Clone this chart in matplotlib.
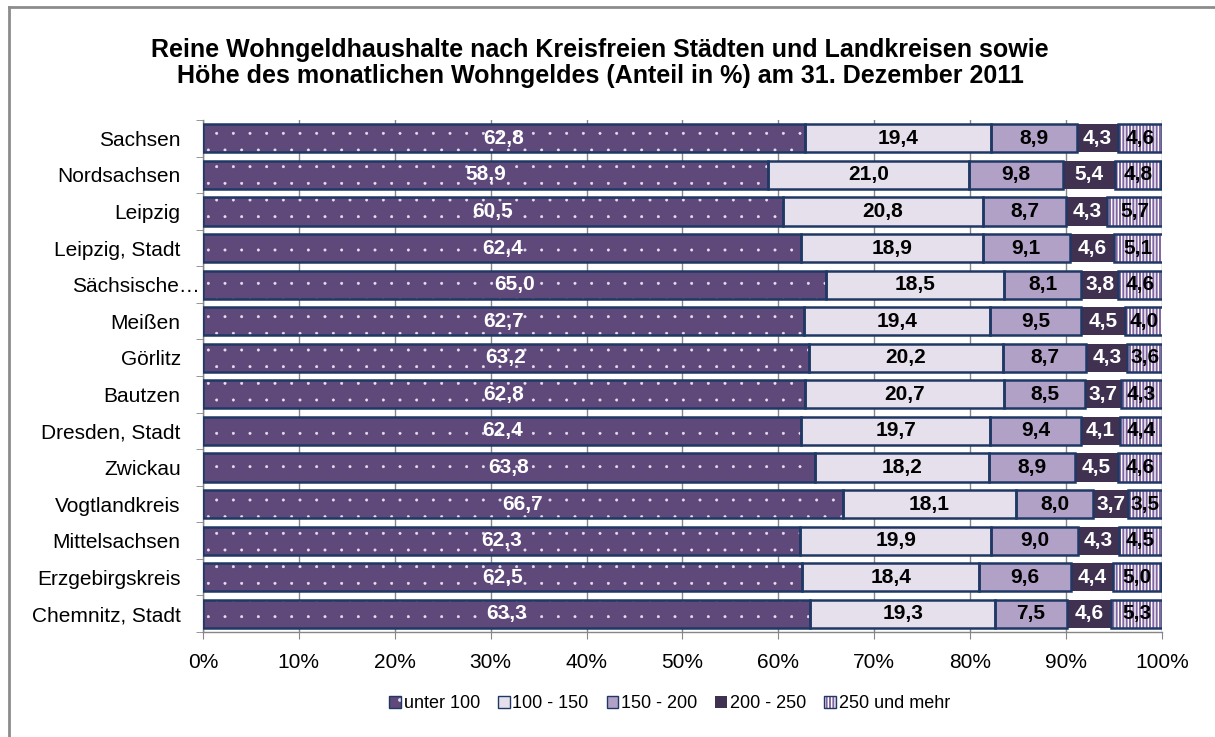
import matplotlib
matplotlib.use("Agg")
import matplotlib.pyplot as plt
import matplotlib.hatch
import matplotlib.transforms as mtransforms
import numpy as np
from matplotlib.legend_handler import HandlerTuple
from matplotlib.lines import Line2D
from matplotlib.patches import Patch

plt.rcParams["font.family"] = ["Liberation Sans", "DejaVu Sans"]
# smaller dots for the '.' hatch
matplotlib.hatch.SmallFilledCircles.size = 0.07

# Data (top to bottom as shown in the chart)
regions = [
    "Sachsen", "Nordsachsen", "Leipzig", "Leipzig, Stadt", "Sächsische…",
    "Meißen", "Görlitz", "Bautzen", "Dresden, Stadt", "Zwickau",
    "Vogtlandkreis", "Mittelsachsen", "Erzgebirgskreis", "Chemnitz, Stadt",
]
unter_100 = [62.8, 58.9, 60.5, 62.4, 65.0, 62.7, 63.2, 62.8, 62.4, 63.8, 66.7, 62.3, 62.5, 63.3]
w100_150 = [19.4, 21.0, 20.8, 18.9, 18.5, 19.4, 20.2, 20.7, 19.7, 18.2, 18.1, 19.9, 18.4, 19.3]
w150_200 = [8.9, 9.8, 8.7, 9.1, 8.1, 9.5, 8.7, 8.5, 9.4, 8.9, 8.0, 9.0, 9.6, 7.5]
w200_250 = [4.3, 5.4, 4.3, 4.6, 3.8, 4.5, 4.3, 3.7, 4.1, 4.5, 3.7, 4.3, 4.4, 4.6]
w250_plus = [4.6, 4.8, 5.7, 5.1, 4.6, 4.0, 3.6, 4.3, 4.4, 4.6, 3.5, 4.5, 5.0, 5.3]

series_names = ["unter 100", "100 - 150", "150 - 200", "200 - 250", "250 und mehr"]
series = [unter_100, w100_150, w150_200, w200_250, w250_plus]

faces = ["#5F497A", "#E5E0EC", "#B2A1C7", "#403151", "#8064A2"]
hatches = [".", None, None, None, "|||||"]
hatch_cols = ["#E8E2F0", None, None, None, "white"]
hatch_lw = [0.4, None, None, None, 1.0]
edges = ["#1F3864", "#1F3864", "#1F3864", "none", "#1F3864"]
text_cols = ["white", "black", "black", "white", "black"]

fig = plt.figure(figsize=(12.15, 7.37), dpi=100)
ax = fig.add_axes([0.167, 0.1425, 0.7894, 0.6945])

y = np.arange(len(regions))
bh = 0.77
left = np.zeros(len(regions))
handles = []
for i, vals in enumerate(series):
    vals = np.array(vals)
    if hatches[i]:
        plt.rcParams["hatch.linewidth"] = hatch_lw[i]
        fill = ax.barh(y, vals, left=left, height=bh, color=faces[i],
                       edgecolor=hatch_cols[i], hatch=hatches[i], linewidth=0, zorder=2)
    else:
        fill = ax.barh(y, vals, left=left, height=bh, color=faces[i], linewidth=0, zorder=2)
    if edges[i] != "none":
        outline = ax.barh(y, vals, left=left, height=bh, fill=False,
                          edgecolor=edges[i], linewidth=1.8, zorder=3)
        handles.append((fill, Patch(fill=False, edgecolor=edges[i], linewidth=1)))
    else:
        handles.append(fill)
    for yy, l, v in zip(y, left, vals):
        ax.text(l + v / 2, yy, f"{v:.1f}".replace(".", ","), ha="center", va="center",
                color=text_cols[i], fontsize=15, fontweight="bold", zorder=4)
    left += vals

ax.set_xlim(0, 100)
ax.set_ylim(len(regions) - 0.5, -0.5)
ax.set_xticks(np.arange(0, 101, 10))
ax.set_xticklabels([f"{t}%" for t in range(0, 101, 10)], fontsize=15)
ax.set_yticks(y)
ax.set_yticklabels(regions, fontsize=15)
ax.set_yticks(np.arange(-0.5, len(regions), 1), minor=True)
ax.tick_params(axis="y", which="major", length=0, pad=16)
ax.tick_params(axis="y", which="minor", length=5, color="#868686", direction="out")
ax.tick_params(axis="x", length=5, color="#868686", pad=10)
ax.grid(axis="x", color="#868686", linewidth=1, zorder=0)
ax.set_axisbelow(True)
for s in ["top", "right"]:
    ax.spines[s].set_visible(False)
for s in ["left", "bottom"]:
    ax.spines[s].set_color("#868686")
    ax.spines[s].set_linewidth(1)

# the truncated label sits right against the axis
lab = ax.get_yticklabels()[4]
lab.set_transform(lab.get_transform() +
                  mtransforms.ScaledTranslation(14 / 72, 0, fig.dpi_scale_trans))

fig.text(0.494, 0.914, "Reine Wohngeldhaushalte nach Kreisfreien Städten und Landkreisen sowie\n"
         "Höhe des monatlichen Wohngeldes (Anteil in %) am 31. Dezember 2011",
         ha="center", va="center", fontsize=18, fontweight="bold", linespacing=1.1)

leg = fig.legend(handles, series_names, loc="center", bbox_to_anchor=(0.551, 0.045),
                 ncol=5, frameon=False, fontsize=13, handlelength=0.65, handleheight=0.65,
                 handletextpad=0.15, columnspacing=1.0,
                 handler_map={tuple: HandlerTuple(ndivide=1)})

# outer frame (only left and top edges visible)
fig.add_artist(Line2D([0.0075, 0.0075], [0, 0.99], transform=fig.transFigure,
                      color="#8C8C8C", linewidth=2))
fig.add_artist(Line2D([0.0075, 1], [0.99, 0.99], transform=fig.transFigure,
                      color="#8C8C8C", linewidth=2))

fig.savefig("out.png", dpi=100)
